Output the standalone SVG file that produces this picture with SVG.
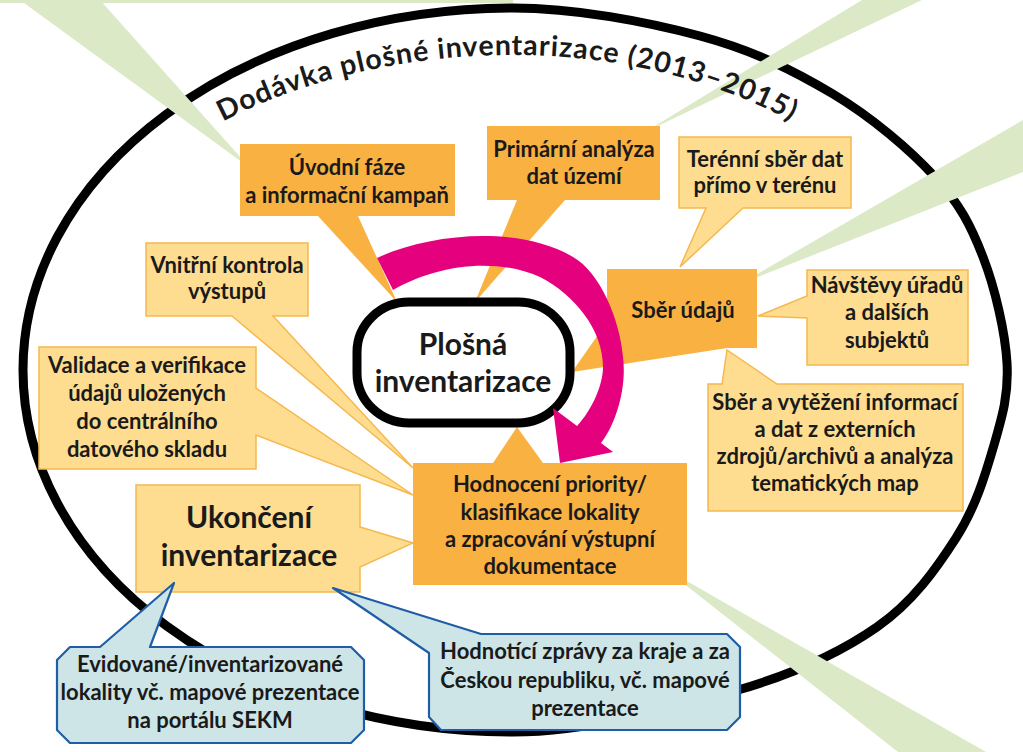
<svg xmlns="http://www.w3.org/2000/svg" width="1023" height="752" viewBox="0 0 1023 752">
<defs>
<style>
text{font-family:Lato,"Liberation Sans",sans-serif;font-weight:700;fill:#1a1a1a;text-anchor:middle}
.t{font-size:22px}
.big{font-size:30px}
.dark{fill:#F9B142}
.light{fill:#FEDD90;stroke:#F5B850;stroke-width:1.5;stroke-linejoin:miter}
.blue{fill:#CDE5E7;stroke:#1F5EA6;stroke-width:2.2;stroke-linejoin:round}
.green{fill:#DBE9C7}
</style>
<path id="titlePath" d="M 40,372 A 473,317 0 0 1 513,55 A 455,317 0 0 1 968,372"/>
</defs>
<rect width="1023" height="752" fill="#ffffff"/>
<rect x="0" y="0" width="513" height="3" class="green"/>
<path id="frame" fill="none" stroke="#000" stroke-width="9" d="M513,8 C575.3,8 646.7,21.7 700,36 C753.3,50.3 793.8,70.5 833,94 C872.2,117.5 910,149.8 935,177 C960,204.2 971,226 983,257 C995,288 1005.2,331.7 1007,363 C1008.8,394.3 1002.5,415.8 994,445 C985.5,474.2 975.5,507.7 956,538 C936.5,568.3 913.3,601.7 877,627 C840.7,652.3 798.7,672.5 738,690 C677.3,707.5 588,732 513,732 A490,362 0 0 1 513,8 Z"/>

<g id="pointers">
<polygon class="green" points="20,0 100,0 250,168"/>
<polygon class="green" points="862,0 922,0 645,132"/>
<polygon class="green" points="1023,120 1023,172 740,284"/>
<polygon class="green" points="664,568 986,752 898,752"/>
</g>

<text style="font-size:28.5px;letter-spacing:1px;text-anchor:start"><textPath href="#titlePath" startOffset="326">Dodávka plošné inventarizace (2013–2015)</textPath></text>

<g id="n-uvodni">
<path class="dark" d="M240,144 H455 V216 H358 L397,302 L318,216 H240 Z"/>
<text class="t" x="347" y="175">Úvodní fáze</text>
<text class="t" x="347" y="203">a informační kampaň</text>
</g>
<g id="n-primarni">
<path class="dark" d="M487,126 H660 V200 H565 L475,302 L517,200 H487 Z"/>
<text class="t" x="574" y="157">Primární analýza</text>
<text class="t" x="574" y="184">dat území</text>
</g>
<g id="n-terenni">
<path class="light" d="M679,137 H851 V208 H743 L680,267 L706,208 H679 Z"/>
<text class="t" x="765" y="167">Terénní sběr dat</text>
<text class="t" x="765" y="193">přímo v terénu</text>
</g>
<g id="n-sber">
<path class="dark" d="M607,269 H757 V348 H727 L572,372 L607,322 Z"/>
<text class="t" x="683" y="318">Sběr údajů</text>
</g>
<g id="n-navstevy">
<path class="light" d="M807,270 H968 V365 H807 V318 L758,316 L807,296 Z"/>
<text class="t" x="887" y="293">Návštěvy úřadů</text>
<text class="t" x="887" y="320">a dalších</text>
<text class="t" x="887" y="348">subjektů</text>
</g>
<g id="n-vytezeni">
<path class="light" d="M708,384 H722 L727,350 L777,384 H963 V511 H708 Z"/>
<text class="t" x="835" y="410">Sběr a vytěžení informací</text>
<text class="t" x="835" y="437">a dat z externích</text>
<text class="t" x="835" y="464">zdrojů/archivů a analýza</text>
<text class="t" x="835" y="491">tematických map</text>
</g>
<g id="n-vnitrni">
<path class="light" d="M146,243 H308 V316 H273 L413,468 L232,316 H146 Z"/>
<text class="t" x="227" y="273">Vnitřní kontrola</text>
<text class="t" x="227" y="299">výstupů</text>
</g>
<g id="n-validace">
<path class="light" d="M39,347 H256 V388 L413,495 L256,435 V469 H39 Z"/>
<text class="t" x="147" y="373">Validace a verifikace</text>
<text class="t" x="147" y="401">údajů uložených</text>
<text class="t" x="147" y="429">do centrálního</text>
<text class="t" x="147" y="457">datového skladu</text>
</g>
<g id="n-ukonceni">
<path class="light" d="M136,485 H360 V527 L413,543 L360,567 V592 H136 Z"/>
<text class="big" x="249" y="528">Ukončení</text>
<text class="big" x="249" y="566">inventarizace</text>
</g>
<g id="n-hodnoceni">
<path class="dark" d="M413,463 H493 L517,427 L543,463 H687 V585 H413 Z"/>
<text class="t" x="550" y="492">Hodnocení priority/</text>
<text class="t" x="550" y="520">klasifikace lokality</text>
<text class="t" x="550" y="547">a zpracování výstupní</text>
<text class="t" x="550" y="574">dokumentace</text>
</g>
<g id="n-plosna">
<rect x="357" y="302" width="213" height="121" rx="52" ry="50" fill="#fff" stroke="#000" stroke-width="9"/>
<text class="big" x="463" y="355">Plošná</text>
<text class="big" x="463" y="392">inventarizace</text>
</g>

<g id="connectors">
<path fill="#E5007D" d="M377,258 C430,233 520,225 573,257 C600,272 620,320 623,357 C627,390 615,425 601,443 L613,452 L560,463 L553,408 L577,426 C592,410 603,385 603,367 C603,330 575,295 540,277 C490,255 430,268 393,290 Z"/>
</g>

<g id="n-evidovane">
<path class="blue" d="M70,647 H100 L174,583 L150,647 H351 L364,660 V730 L351,743 H70 L57,730 V660 Z"/>
<text class="t" x="210" y="672">Evidované/inventarizované</text>
<text class="t" x="210" y="700">lokality vč. mapové prezentace</text>
<text class="t" x="210" y="728">na portálu SEKM</text>
</g>
<g id="n-zpravy">
<path class="blue" d="M333,588 L481,634 H727 L740,647 V717 L727,730 H441 L429,717 V653 Z"/>
<text class="t" x="585" y="659">Hodnotící zprávy za kraje a za</text>
<text class="t" x="585" y="688">Českou republiku, vč. mapové</text>
<text class="t" x="585" y="716">prezentace</text>
</g>
</svg>
